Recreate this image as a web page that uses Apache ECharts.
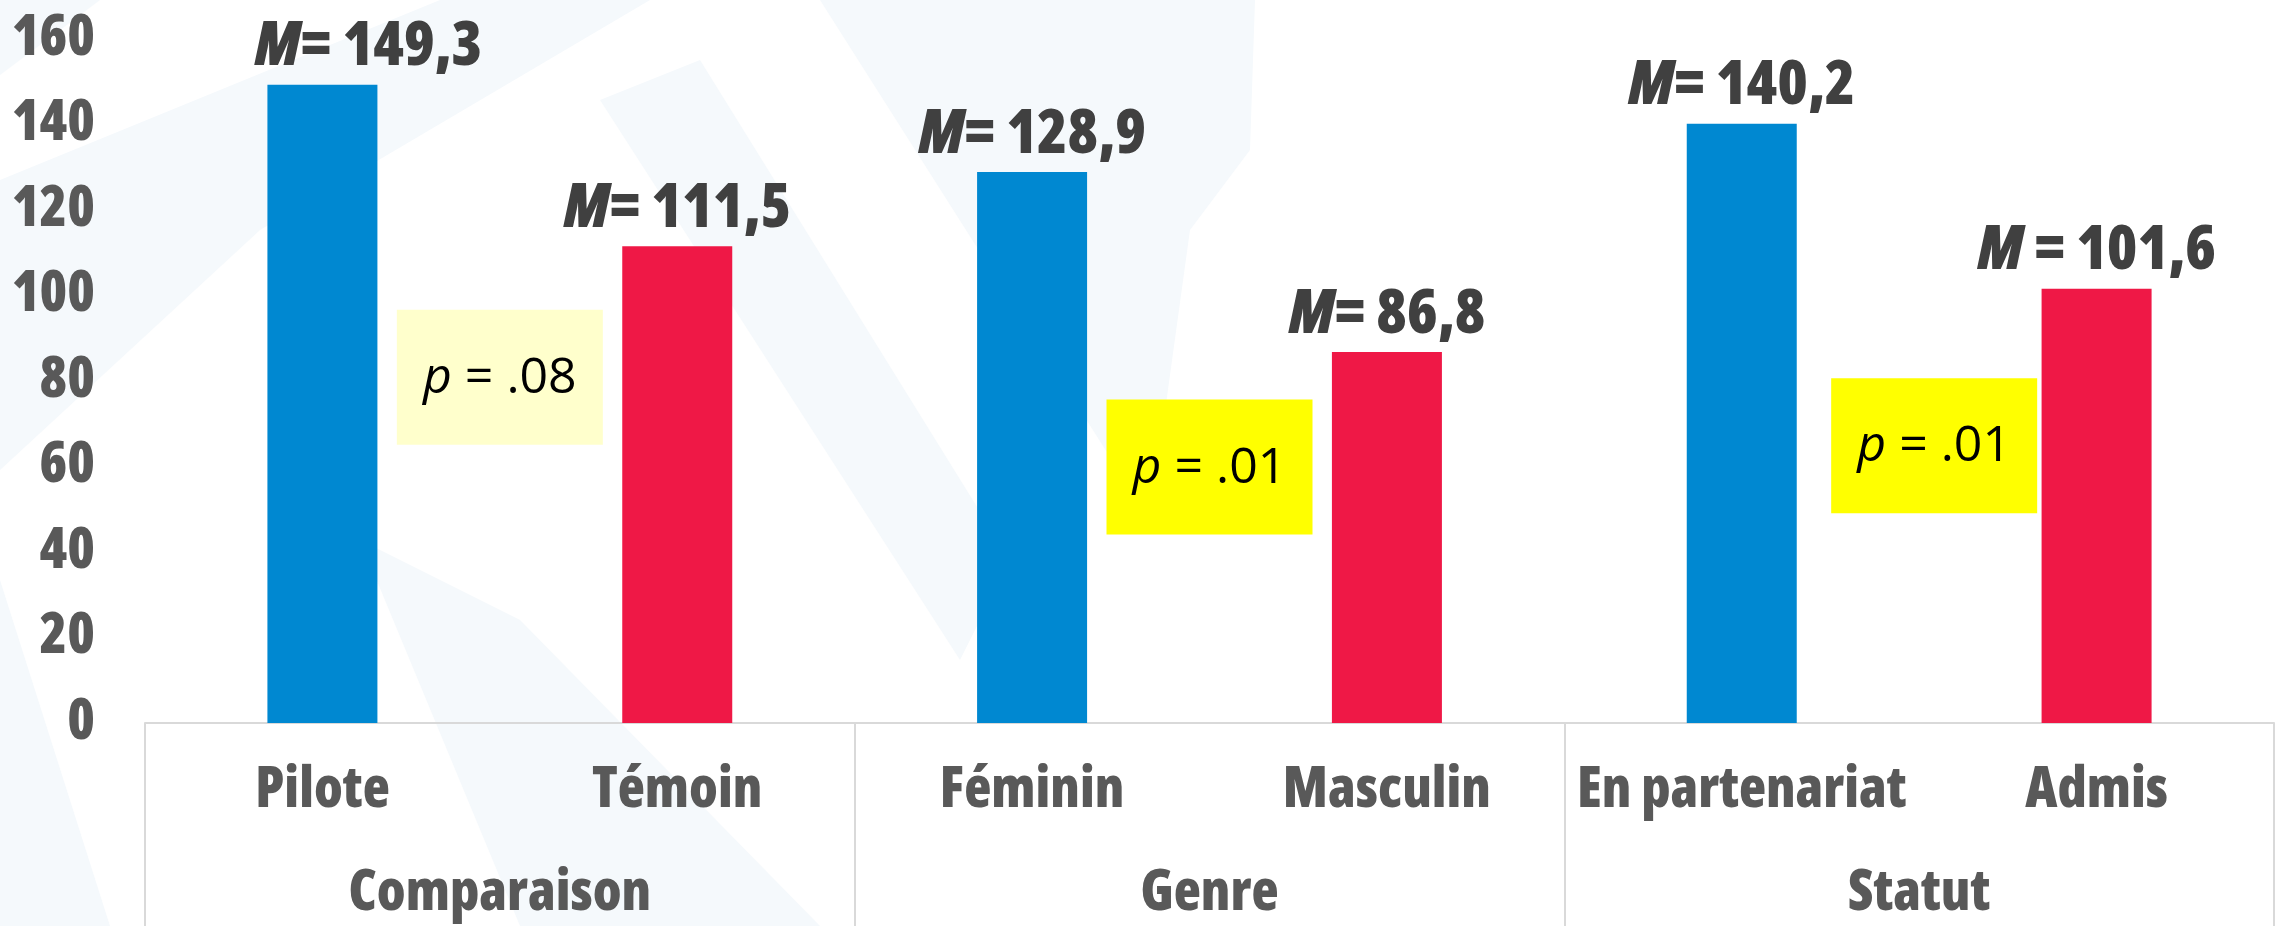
<!DOCTYPE html>
<html>
<head>
<meta charset="utf-8">
<script src="https://cdn.jsdelivr.net/npm/echarts@6/dist/echarts.min.js"></script>
<style>
  html, body { margin: 0; padding: 0; background: #fff; }
  #chart { width: 2278px; height: 926px; }
</style>
</head>
<body>
<div id="chart"></div>
<script>
// données
const categories = ['Pilote', 'Témoin', 'Féminin', 'Masculin', 'En partenariat', 'Admis'];
const groups = ['Comparaison', 'Genre', 'Statut'];
const means = [149.3, 111.5, 128.9, 86.8, 140.2, 101.6];
const pValues = ['.08', '.01', '.01'];
const yTicks = [0, 20, 40, 60, 80, 100, 120, 140, 160];

// police étroite et grasse (Open Sans variable, largeur condensée)
const narrow = '"Open Sans", "DejaVu Sans Condensed", sans-serif';
const heavy = '800 condensed';
const grey = '#595959';
const lineGrey = '#d9d9d9';

const chart = echarts.init(document.getElementById('chart'));

const axisFont = { fontFamily: narrow, fontWeight: heavy, fontSize: 56, color: grey };

const option = {
  backgroundColor: '#ffffff',
  animation: false,
  grid: { left: 145, right: 4, top: 39, bottom: 203 },
  xAxis: [
    {
      type: 'category',
      data: categories,
      axisLine: { show: true, lineStyle: { color: lineGrey, width: 2 } },
      axisTick: { show: false },
      axisLabel: Object.assign({ interval: 0, margin: 40 }, axisFont)
    },
    {
      type: 'category',
      data: groups,
      position: 'bottom',
      axisLine: { show: false },
      axisTick: { show: true, length: 205, lineStyle: { color: lineGrey, width: 2 } },
      axisLabel: Object.assign({ interval: 0, margin: 143 }, axisFont)
    }
  ],
  yAxis: {
    type: 'value',
    min: yTicks[0],
    max: yTicks[yTicks.length - 1],
    interval: 20,
    axisLine: { show: false },
    axisTick: { show: false },
    splitLine: { show: false },
    axisLabel: Object.assign({ margin: 50 }, axisFont)
  },
  series: [{
    type: 'bar',
    xAxisIndex: 0,
    barWidth: '31%',
    data: means.map((v, i) => ({
      value: v,
      label: i === 0 ? { offset: [46, 0] } : undefined
    })),
    itemStyle: {
      color: p => (p.dataIndex % 2 === 0 ? '#0088d1' : '#ef1846')
    },
    label: {
      show: true,
      position: 'top',
      distance: 6,
      color: '#404040',
      fontFamily: narrow,
      fontWeight: heavy,
      fontSize: 62,
      formatter: p => '{m|M}' + (p.dataIndex === 5 ? ' = ' : '= ') + String(p.value).replace('.', ','),
      rich: {
        m: { fontFamily: narrow, fontWeight: heavy, fontStyle: 'italic', fontSize: 62, color: '#404040' }
      }
    }
  }]
};

chart.setOption(option);

// fond décoratif (bandes bleu très pâle)
const bg = '#f5f9fc';
const bands = [
  [[0, 0], [100, 0], [0, 75]],
  [[0, 180], [440, 0], [650, 0], [260, 230], [0, 470]],
  [[0, 580], [110, 926], [0, 926]],
  [[600, 100], [700, 60], [1010, 560], [960, 660]],
  [[820, 0], [1255, 0], [1250, 150], [1190, 230], [1150, 520]],
  [[360, 540], [520, 620], [820, 926], [520, 926]]
];
const graphics = bands.map(pts => ({
  type: 'polygon', z: -10, silent: true, shape: { points: pts }, style: { fill: bg }
}));

// encadrés de la valeur p, centrés entre les deux barres de chaque groupe
const boxColors = ['#ffffcc', '#ffff00', '#ffff00'];
const boxY = [81, 60, 65];
const boxShift = [0, 0, 15];
pValues.forEach((pv, i) => {
  const xa = chart.convertToPixel({ xAxisIndex: 0 }, categories[2 * i]);
  const xb = chart.convertToPixel({ xAxisIndex: 0 }, categories[2 * i + 1]);
  const cx = (xa + xb) / 2 + boxShift[i];
  const cy = chart.convertToPixel({ yAxisIndex: 0 }, boxY[i]);
  graphics.push({
    type: 'group',
    x: cx, y: cy, z: 10,
    children: [
      { type: 'rect', shape: { x: -103, y: -67, width: 206, height: 135 }, style: { fill: boxColors[i] } },
      {
        type: 'text',
        style: {
          x: 0, y: 2,
          text: '{p|p} = ' + pv,
          align: 'center', verticalAlign: 'middle',
          fill: '#000', font: '50px "Open Sans", sans-serif',
          rich: { p: { fontStyle: 'italic', fontSize: 50, fontFamily: '"Open Sans", sans-serif', fill: '#000' } }
        }
      }
    ]
  });
});

chart.setOption({ graphic: graphics });
</script>
</body>
</html>
